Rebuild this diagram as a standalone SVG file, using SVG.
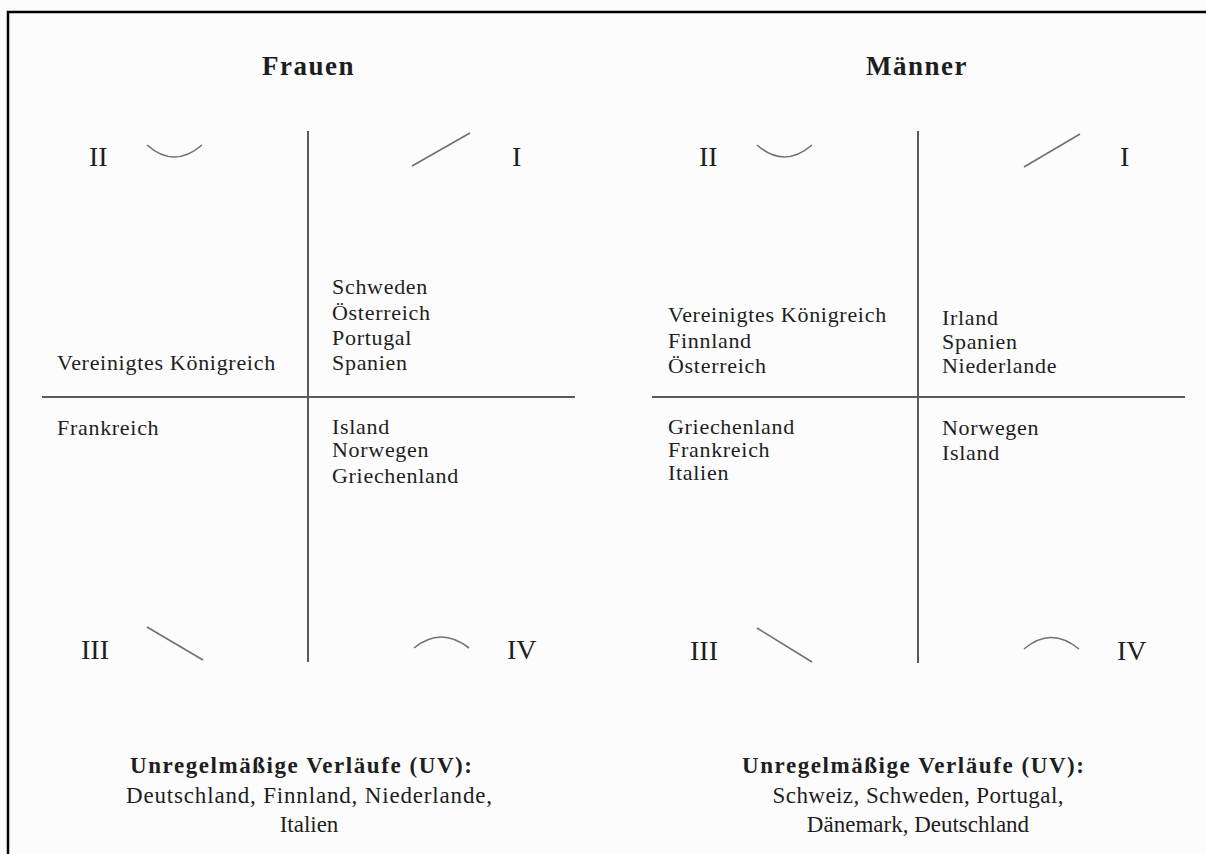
<svg xmlns="http://www.w3.org/2000/svg" width="1206" height="854" viewBox="0 0 1206 854">
<style>
text{font-family:"Liberation Serif","Times New Roman",serif;fill:#1e1e1e}
.hd{font-weight:bold;font-size:27px;text-anchor:middle;letter-spacing:1.5px}
.num{font-size:28px}
.t{font-size:22px;letter-spacing:0.7px}
.uvh{font-weight:bold;font-size:23px;text-anchor:middle}
.uv{font-size:23px;text-anchor:middle}
.axis{stroke:#5a5a5a;stroke-width:2;fill:none}
.glyph{stroke:#707070;stroke-width:1.6;fill:none}
.frame{stroke:#000;stroke-width:2.5;fill:none}
</style>
<rect width="1206" height="854" fill="#fcfcfc"/>
<path class="frame" d="M8,854 V12 H1206"/>
<g id="connectors">
  <line class="axis" x1="308" y1="131" x2="308" y2="662"/>
  <line class="axis" x1="42" y1="397" x2="575" y2="397"/>
  <line class="axis" x1="918" y1="131" x2="918" y2="663"/>
  <line class="axis" x1="652" y1="397" x2="1185" y2="397"/>
</g>
<g id="frauen">
  <text class="hd" x="308.5" y="75">Frauen</text>
  <g id="f-q2"><text class="num" x="89" y="166">II</text><path class="glyph" d="M147,145 Q174,169 202,145"/></g>
  <g id="f-q1"><text class="num" x="512" y="166">I</text><path class="glyph" d="M412,166 L470,133"/></g>
  <g id="f-q3"><text class="num" x="81" y="659">III</text><path class="glyph" d="M147,627 L203,660"/></g>
  <g id="f-q4"><text class="num" x="507" y="659">IV</text><path class="glyph" d="M414,648 Q441,626 469,648"/></g>
  <g id="f-tl"><text class="t" x="57" y="370">Vereinigtes Königreich</text></g>
  <g id="f-tr">
    <text class="t" x="332" y="294">Schweden</text>
    <text class="t" x="332" y="320">Österreich</text>
    <text class="t" x="332" y="345">Portugal</text>
    <text class="t" x="332" y="370">Spanien</text>
  </g>
  <g id="f-bl"><text class="t" x="57" y="435">Frankreich</text></g>
  <g id="f-br">
    <text class="t" x="332" y="434">Island</text>
    <text class="t" x="332" y="457">Norwegen</text>
    <text class="t" x="332" y="483">Griechenland</text>
  </g>
  <g id="f-uv">
    <text class="uvh" x="301" y="773" textLength="342" lengthAdjust="spacing">Unregelmäßige Verläufe (UV):</text>
    <text class="uv" x="309" y="803" textLength="366" lengthAdjust="spacing">Deutschland, Finnland, Niederlande,</text>
    <text class="uv" x="309" y="832">Italien</text>
  </g>
</g>
<g id="maenner">
  <text class="hd" x="917" y="75">Männer</text>
  <g id="m-q2"><text class="num" x="699" y="166">II</text><path class="glyph" d="M757,145 Q784,169 812,145"/></g>
  <g id="m-q1"><text class="num" x="1120" y="166">I</text><path class="glyph" d="M1024,167 L1080,134"/></g>
  <g id="m-q3"><text class="num" x="690" y="660">III</text><path class="glyph" d="M757,628 L812,662"/></g>
  <g id="m-q4"><text class="num" x="1117" y="660">IV</text><path class="glyph" d="M1024,649 Q1051,626 1079,649"/></g>
  <g id="m-tl">
    <text class="t" x="668" y="322">Vereinigtes Königreich</text>
    <text class="t" x="668" y="348">Finnland</text>
    <text class="t" x="668" y="373">Österreich</text>
  </g>
  <g id="m-tr">
    <text class="t" x="942" y="325">Irland</text>
    <text class="t" x="942" y="349">Spanien</text>
    <text class="t" x="942" y="373">Niederlande</text>
  </g>
  <g id="m-bl">
    <text class="t" x="668" y="434">Griechenland</text>
    <text class="t" x="668" y="457">Frankreich</text>
    <text class="t" x="668" y="480">Italien</text>
  </g>
  <g id="m-br">
    <text class="t" x="942" y="435">Norwegen</text>
    <text class="t" x="942" y="460">Island</text>
  </g>
  <g id="m-uv">
    <text class="uvh" x="913" y="773" textLength="342" lengthAdjust="spacing">Unregelmäßige Verläufe (UV):</text>
    <text class="uv" x="918" y="803" textLength="291" lengthAdjust="spacing">Schweiz, Schweden, Portugal,</text>
    <text class="uv" x="918" y="832">Dänemark, Deutschland</text>
  </g>
</g>
</svg>
